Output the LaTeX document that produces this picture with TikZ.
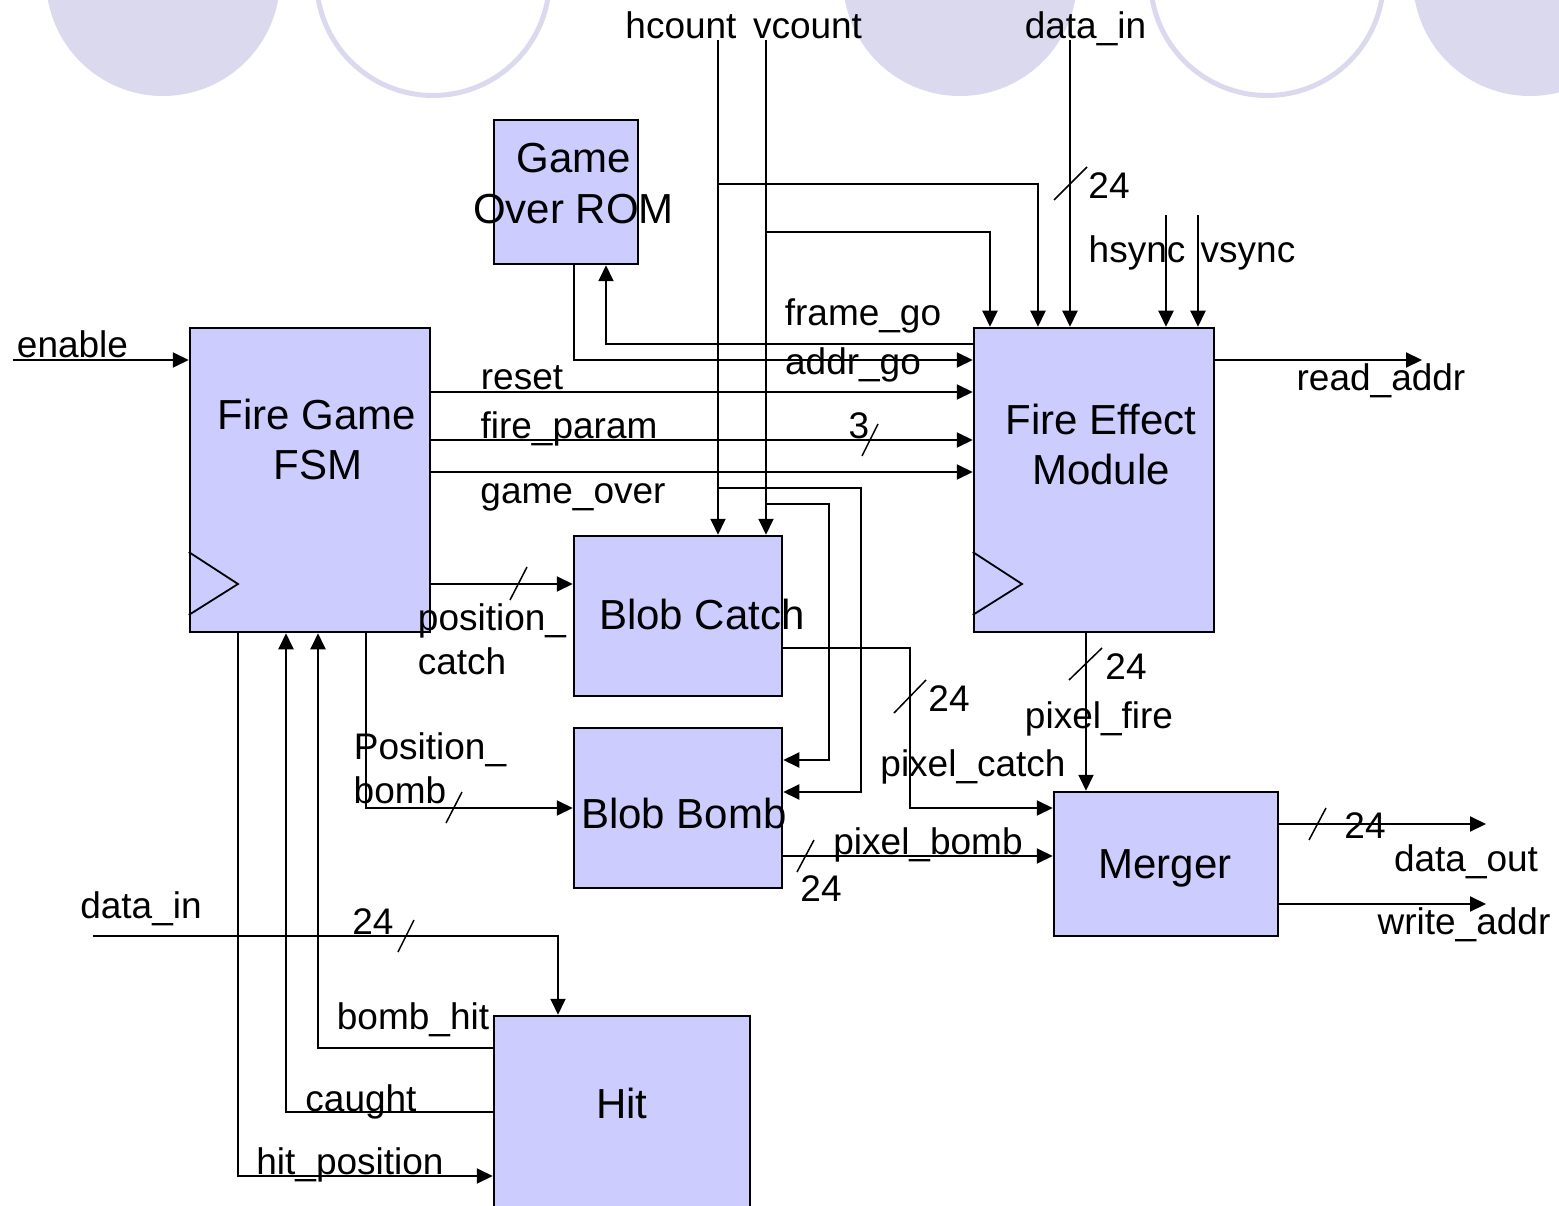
\documentclass[tikz,border=0pt]{standalone}
\usepackage{fontspec}
\setmainfont{Liberation Sans}
\usetikzlibrary{arrows.meta}
\definecolor{lav}{RGB}{218,217,238}
\definecolor{boxc}{RGB}{204,204,255}
\newcommand\lblfont{\fontsize{37}{44}\selectfont}
\newcommand\blkfont{\fontsize{42}{50}\selectfont}
\tikzset{
 wire/.style={line width=2pt},
 arr/.style={wire, -{Triangle[length=16pt,width=15pt]}},
 slashln/.style={line width=1.5pt},
 blk/.style={draw, line width=2.5pt, fill=boxc, inner sep=0pt},
 lbl/.style={anchor=base, inner sep=0pt, font=\lblfont},
 btxt/.style={anchor=base, inner sep=0pt, font=\blkfont},
 bgdisc/.style={fill=lav},
 bgring/.style={draw=lav, line width=5pt},
 clk/.style={line width=1.8pt}
}
\begin{document}
\begin{tikzpicture}[x=1pt,y=-1pt]
\useasboundingbox (0,0) rectangle (1559,1206);
\begin{scope}
\clip (0,0) rectangle (1559,1206);
% background circles
\fill[bgdisc] (163,-21) circle (117);
\draw[bgring] (433,-21) circle (116.5);
\fill[bgdisc] (960,-21) circle (117);
\draw[bgring] (1267,-21) circle (116.5);
\fill[bgdisc] (1530,-21) circle (117);

% blocks
\node[blk, minimum width=144, minimum height=144] (rom) at (566,192) {};
\node[blk, minimum width=240, minimum height=304] (fsm) at (310,480) {};
\node[blk, minimum width=240, minimum height=304] (fem) at (1094,480) {};
\node[blk, minimum width=208, minimum height=160] (catch) at (678,616) {};
\node[blk, minimum width=208, minimum height=160] (bomb) at (678,808) {};
\node[blk, minimum width=224, minimum height=144] (merger) at (1166,864) {};
\node[blk, minimum width=256, minimum height=214] (hit) at (622,1123) {};

% clock marks
\draw[clk] (fsm.west |- 0,552) -- (238,584) -- (fsm.west |- 0,615);
\draw[clk] (fem.west |- 0,552) -- (1022,584) -- (fem.west |- 0,615);

% block texts
\node[btxt] (tgame) at (574,173) {Game};
\node[btxt] (tover) at (573.5,224) {Over ROM};
\node[btxt] (tfire) at (317,429) {Fire Game};
\node[btxt] (tfsm) at (318,479) {FSM};
\node[btxt] (tfe) at (1101,434) {Fire Effect};
\node[btxt] (tmod) at (1101,484) {Module};
\node[btxt] (tcatch) at (702,629) {Blob Catch};
\node[btxt] (tbomb) at (684,828) {Blob Bomb};
\node[btxt] (tmerg) at (1165,878) {Merger};
\node[btxt] (thit) at (622,1118) {Hit};

% free ends and junctions
\coordinate (enin) at (13,360);
\coordinate (hctop) at (718,40);
\coordinate (vctop) at (766,40);
\coordinate (ditop) at (1070,40);
\coordinate (hsy) at (1166,215);
\coordinate (vsy) at (1198,215);
\coordinate (hc1) at (718,184);
\coordinate (vc1) at (766,232);
\coordinate (hc2) at (718,488);
\coordinate (vc2) at (766,504);
\coordinate (raout) at (1422,360);
\coordinate (dout) at (1486,824);
\coordinate (wout) at (1486,904);
\coordinate (dib) at (93,936);

% connectors
\draw[arr] (enin) -- (fsm.west |- enin);
\draw[arr] (hctop) -- (hctop |- catch.north);
\draw[arr] (vctop) -- (vctop |- catch.north);
\draw[arr] (hc1) -| (fem.north -| 1038,0);
\draw[arr] (vc1) -| (fem.north -| 990,0);
\draw[arr] (hc2) -| (861,792) -- (bomb.east |- 0,792);
\draw[arr] (vc2) -| (829,760) -- (bomb.east |- 0,760);
\draw[arr] (ditop) -- (ditop |- fem.north);
\draw[arr] (hsy) -- (hsy |- fem.north);
\draw[arr] (vsy) -- (vsy |- fem.north);
\draw[arr] (fem.west |- 0,344) -| (rom.south -| 606,0);
\draw[arr] (rom.south -| 574,0) |- (fem.west |- 0,360);
\draw[arr] (fsm.east |- 0,392) -- (fem.west |- 0,392);
\draw[arr] (fsm.east |- 0,440) -- (fem.west |- 0,440);
\draw[arr] (fsm.east |- 0,472) -- (fem.west |- 0,472);
\draw[arr] (fem.east |- raout) -- (raout);
\draw[arr] (fsm.east |- 0,584) -- (catch.west |- 0,584);
\draw[arr] (fsm.south -| 366,0) |- (bomb.west |- 0,808);
\draw[arr] (catch.east |- 0,648) -| (910,808) -- (merger.west |- 0,808);
\draw[arr] (fem.south -| 1086,0) -- (merger.north -| 1086,0);
\draw[arr] (bomb.east |- 0,856) -- (merger.west |- 0,856);
\draw[arr] (merger.east |- dout) -- (dout);
\draw[arr] (merger.east |- wout) -- (wout);
\draw[arr] (dib) -| (hit.north -| 558,0);
\draw[arr] (hit.west |- 0,1048) -| (fsm.south -| 318,0);
\draw[arr] (hit.west |- 0,1112) -| (fsm.south -| 286,0);
\draw[arr] (fsm.south -| 238,0) |- (hit.west |- 0,1176);

% bus width slashes
\draw[slashln] (1054,200) -- (1087,167);
\draw[slashln] (862,456) -- (878,424);
\draw[slashln] (510,600) -- (527,567);
\draw[slashln] (446,823) -- (462,792);
\draw[slashln] (894,713) -- (926,680);
\draw[slashln] (1069,680) -- (1102,648);
\draw[slashln] (797,872) -- (814,840);
\draw[slashln] (1309,840) -- (1326,808);
\draw[slashln] (398,952) -- (414,920);

% labels
\node[lbl] (lenable) at (72.5,358) {enable};
\node[lbl] (lhcount) at (681,39) {hcount};
\node[lbl] (lvcount) at (807.5,39) {vcount};
\node[lbl] (ldatain) at (1085.5,39) {data\_in};
\node[lbl] (l24a) at (1109,199) {24};
\node[lbl] (lhsync) at (1137,263) {hsync};
\node[lbl] (lvsync) at (1248,263) {vsync};
\node[lbl] (lframe) at (863,326) {frame\_go};
\node[lbl] (laddr) at (853,374) {addr\_go};
\node[lbl] (lreset) at (522,390) {reset};
\node[lbl] (lparam) at (569,438) {fire\_param};
\node[lbl] (lthree) at (859,438) {3};
\node[lbl] (lover) at (573,503) {game\_over};
\node[lbl] (lread) at (1381,391) {read\_addr};
\node[lbl] (lposc) at (492,630) {position\_};
\node[lbl] (lcatch) at (462,674) {catch};
\node[lbl] (lposb) at (430,759) {Position\_};
\node[lbl] (lbombw) at (400,803) {bomb};
\node[lbl] (l24c) at (949,711) {24};
\node[lbl] (l24f) at (1126,679) {24};
\node[lbl] (lpfire) at (1099,728) {pixel\_fire};
\node[lbl] (lpcatch) at (973,776) {pixel\_catch};
\node[lbl] (lpbomb) at (928,854) {pixel\_bomb};
\node[lbl] (l24b) at (821,901) {24};
\node[lbl] (l24o) at (1365,838) {24};
\node[lbl] (ldout) at (1466,871) {data\_out};
\node[lbl] (lwaddr) at (1464,934) {write\_addr};
\node[lbl] (ldib) at (141,918) {data\_in};
\node[lbl] (l24d) at (373,934) {24};
\node[lbl] (lbhit) at (413,1029) {bomb\_hit};
\node[lbl] (lcaught) at (361,1111) {caught};
\node[lbl] (lhitpos) at (350,1174) {hit\_position};
\end{scope}
\end{tikzpicture}
\end{document}
